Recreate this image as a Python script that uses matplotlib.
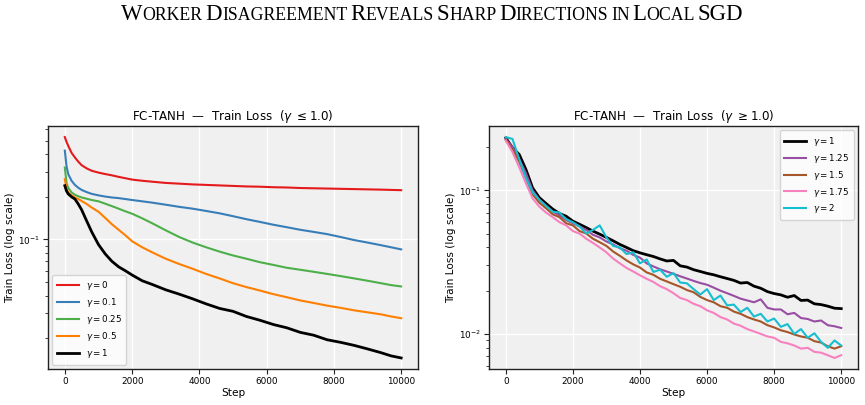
import numpy as np
import matplotlib.pyplot as plt

# ── Dados ─────────────────────────────────────────────────────
steps_left = [0, 50, 100, 200, 300, 400, 500, 650, 800, 1000, 1200, 1400, 1600, 1800,
              2000, 2300, 2600, 3000, 3400, 3800, 4200, 4600, 5000, 5400, 5800, 6200,
              6600, 7000, 7400, 7800, 8200, 8600, 9000, 9400, 9700, 10000]

loss_g0 = [0.53, 0.49, 0.46, 0.41, 0.38, 0.355, 0.335, 0.318, 0.306, 0.297, 0.29, 0.284,
           0.277, 0.271, 0.265, 0.26, 0.256, 0.251, 0.248, 0.245, 0.243, 0.241, 0.239,
           0.237, 0.236, 0.234, 0.233, 0.231, 0.23, 0.229, 0.228, 0.227, 0.226, 0.225,
           0.224, 0.223]
loss_g01 = [0.425, 0.33, 0.29, 0.26, 0.243, 0.232, 0.224, 0.216, 0.21, 0.205, 0.201, 0.198,
            0.196, 0.193, 0.19, 0.186, 0.182, 0.176, 0.17, 0.165, 0.159, 0.153, 0.146,
            0.139, 0.133, 0.127, 0.122, 0.117, 0.113, 0.109, 0.104, 0.099, 0.095, 0.091,
            0.088, 0.085]
loss_g025 = [0.323, 0.25, 0.232, 0.215, 0.207, 0.202, 0.198, 0.194, 0.19, 0.186, 0.179,
             0.172, 0.165, 0.158, 0.152, 0.141, 0.13, 0.116, 0.104, 0.095, 0.088, 0.082,
             0.077, 0.073, 0.069, 0.066, 0.063, 0.061, 0.059, 0.057, 0.055, 0.053, 0.051,
             0.049, 0.0475, 0.0465]
loss_g05 = [0.267, 0.23, 0.215, 0.205, 0.198, 0.193, 0.187, 0.178, 0.168, 0.157, 0.142,
            0.128, 0.117, 0.107, 0.097, 0.088, 0.081, 0.073, 0.067, 0.062, 0.057, 0.053,
            0.049, 0.046, 0.0435, 0.041, 0.039, 0.037, 0.0355, 0.034, 0.0328, 0.0315,
            0.0305, 0.0295, 0.0285, 0.0277]
loss_g1 = [0.24, 0.22, 0.21, 0.2, 0.193, 0.178, 0.162, 0.135, 0.113, 0.092, 0.079, 0.07,
           0.064, 0.06, 0.056, 0.051, 0.048, 0.044, 0.041, 0.038, 0.035, 0.0325, 0.031,
           0.0285, 0.0268, 0.025, 0.0237, 0.022, 0.021, 0.0195, 0.0187, 0.0178, 0.0168,
           0.0158, 0.015, 0.0145]

steps_right = list(range(0, 10001, 200))

loss_r1 = [0.232, 0.198, 0.178, 0.140, 0.104, 0.089, 0.081, 0.074, 0.069, 0.066, 0.061,
           0.058, 0.055, 0.052, 0.0495, 0.047, 0.0445, 0.042, 0.040, 0.038, 0.0367,
           0.0356, 0.0346, 0.0333, 0.0322, 0.0325, 0.0298, 0.0292, 0.0280, 0.0272,
           0.0264, 0.0258, 0.0250, 0.0243, 0.0236, 0.0226, 0.0228, 0.0215, 0.0208,
           0.0197, 0.0191, 0.0187, 0.0180, 0.0185, 0.0171, 0.0172, 0.0162, 0.0160,
           0.0156, 0.0151, 0.0150]
loss_r125 = [0.228, 0.200, 0.165, 0.132, 0.100, 0.086, 0.078, 0.071, 0.067, 0.062, 0.059,
             0.056, 0.053, 0.049, 0.047, 0.044, 0.042, 0.0395, 0.038, 0.0355, 0.034,
             0.031, 0.0295, 0.0282, 0.0272, 0.0262, 0.0252, 0.0243, 0.0234, 0.0226,
             0.0220, 0.0210, 0.0200, 0.0192, 0.0184, 0.0176, 0.0171, 0.0166, 0.0174,
             0.0152, 0.0148, 0.0148, 0.0137, 0.0140, 0.0129, 0.0127, 0.0122, 0.0124,
             0.0115, 0.0113, 0.0110]
loss_r15 = [0.225, 0.192, 0.158, 0.122, 0.094, 0.082, 0.075, 0.068, 0.065, 0.059, 0.057,
            0.052, 0.050, 0.046, 0.0435, 0.041, 0.0375, 0.035, 0.0325, 0.0305, 0.029,
            0.0268, 0.0258, 0.0242, 0.0232, 0.0222, 0.0213, 0.0202, 0.0195, 0.0181,
            0.0172, 0.0166, 0.0156, 0.0152, 0.0143, 0.0138, 0.0131, 0.0126, 0.0122,
            0.0115, 0.0111, 0.0106, 0.0103, 0.0099, 0.0096, 0.0094, 0.0089, 0.0087,
            0.0082, 0.0079, 0.0082]
loss_r175 = [0.222, 0.185, 0.145, 0.112, 0.088, 0.077, 0.070, 0.065, 0.060, 0.057, 0.052,
             0.050, 0.046, 0.043, 0.040, 0.037, 0.0335, 0.031, 0.0288, 0.0272, 0.0256,
             0.0242, 0.0230, 0.0215, 0.0205, 0.0192, 0.0178, 0.0172, 0.0162, 0.0156,
             0.0146, 0.0140, 0.0131, 0.0126, 0.0118, 0.0114, 0.0108, 0.0104, 0.0100,
             0.0096, 0.0094, 0.0088, 0.0086, 0.0083, 0.0079, 0.0080, 0.0075, 0.0074,
             0.0071, 0.0068, 0.0071]
loss_r2 = [0.235, 0.228, 0.165, 0.122, 0.097, 0.086, 0.078, 0.071, 0.070, 0.063, 0.060,
           0.056, 0.050, 0.053, 0.057, 0.047, 0.041, 0.040, 0.036, 0.037, 0.031, 0.033,
           0.027, 0.028, 0.025, 0.0265, 0.0228, 0.0225, 0.0205, 0.0188, 0.0205, 0.0172,
           0.0185, 0.0158, 0.0160, 0.0142, 0.0152, 0.0132, 0.0138, 0.0122, 0.0128,
           0.0112, 0.0117, 0.0100, 0.0108, 0.0094, 0.0101, 0.0088, 0.0080, 0.0090, 0.0083]

left_labels = ["0", "0.1", "0.25", "0.5", "1"]
right_labels = ["1", "1.25", "1.5", "1.75", "2"]

left_series = [loss_g0, loss_g01, loss_g025, loss_g05, loss_g1]
right_series = [loss_r1, loss_r125, loss_r15, loss_r175, loss_r2]
left_colors = ["#e41a1c", "#377eb8", "#4daf4a", "#ff7f00", "black"]
right_colors = ["black", "#984ea3", "#a65628", "#f781bf", "#17becf"]

# ── Figura ────────────────────────────────────────────────────
fig = plt.figure(figsize=(8.65, 4.05), dpi=100)
ax1 = fig.add_axes([0.0555, 0.0889, 0.4277, 0.60])
ax2 = fig.add_axes([0.5653, 0.0889, 0.4266, 0.60])


def style_axis(ax, title):
    ax.set_facecolor("#f0f0f0")
    ax.set_yscale("log")
    ax.grid(True, which="major", color="white", linewidth=1.0)
    ax.set_axisbelow(True)
    for sp in ax.spines.values():
        sp.set_color("#222222")
        sp.set_linewidth(1.0)
    ax.tick_params(axis="both", which="major", labelsize=6.4, length=3.5,
                   width=0.8, color="#222222", pad=2.5)
    ax.tick_params(axis="y", which="minor", length=2, width=0.6, color="#222222")
    ax.set_xticks([0, 2000, 4000, 6000, 8000, 10000])
    ax.set_xlabel("Step", fontsize=7.6, labelpad=1)
    ax.set_ylabel("Train Loss (log scale)", fontsize=7.6, labelpad=2)
    ax.set_title(title, fontsize=8.6, pad=4)


for vals, lab, col in zip(left_series, left_labels, left_colors):
    lw = 2.0 if col == "black" else 1.5
    ax1.plot(steps_left, vals, color=col, linewidth=lw, label=rf"$\gamma = {lab}$")
style_axis(ax1, r"FC-TANH  —  Train Loss  ($\gamma\ \leq 1.0$)")
ax1.legend(loc="lower left", fontsize=6.3, handlelength=2.5, borderpad=0.5,
           labelspacing=0.45)

for vals, lab, col in zip(right_series, right_labels, right_colors):
    lw = 2.0 if col == "black" else 1.5
    ax2.plot(steps_right, vals, color=col, linewidth=lw, label=rf"$\gamma = {lab}$")
style_axis(ax2, r"FC-TANH  —  Train Loss  ($\gamma\ \geq 1.0$)")
ax2.legend(loc="upper right", fontsize=6.3, handlelength=2.5, borderpad=0.5,
           labelspacing=0.45)

# ── Título em versalete (small caps) ─────────────────────────
words = ["Worker", "Disagreement", "Reveals", "Sharp", "Directions", "in", "Local", "SGD"]
pieces = []
for i, w in enumerate(words):
    if w.isupper():
        pieces.append((w, 1.0))
    elif w.islower():
        pieces.append((w.upper(), 0.78))
    else:
        pieces.append((w[0], 1.0))
        pieces.append((w[1:].upper(), 0.78))
    if i < len(words) - 1:
        pieces.append((" ", 0.78))

renderer = fig.canvas.get_renderer()
base = 15.0
widths = []
for txt, sc in pieces:
    if txt == " ":
        t = fig.text(0, 0, "A A", fontsize=base * sc, family="Liberation Serif")
        t2 = fig.text(0, 0, "AA", fontsize=base * sc, family="Liberation Serif")
        w = t.get_window_extent(renderer).width - t2.get_window_extent(renderer).width
        t.remove()
        t2.remove()
    else:
        t = fig.text(0, 0, txt, fontsize=base * sc, family="Liberation Serif")
        w = t.get_window_extent(renderer).width
        t.remove()
    widths.append(w)

target_w = 622.0
scale = target_w / sum(widths)
fig_w = fig.get_figwidth() * fig.dpi
x = 432.0 - target_w / 2
for (txt, sc), w in zip(pieces, widths):
    if txt != " ":
        fig.text(x / fig_w, 0.95, txt, fontsize=base * sc * scale,
                 family="Liberation Serif", va="baseline", ha="left")
    x += w * scale

fig.savefig("out.png", dpi=100)
